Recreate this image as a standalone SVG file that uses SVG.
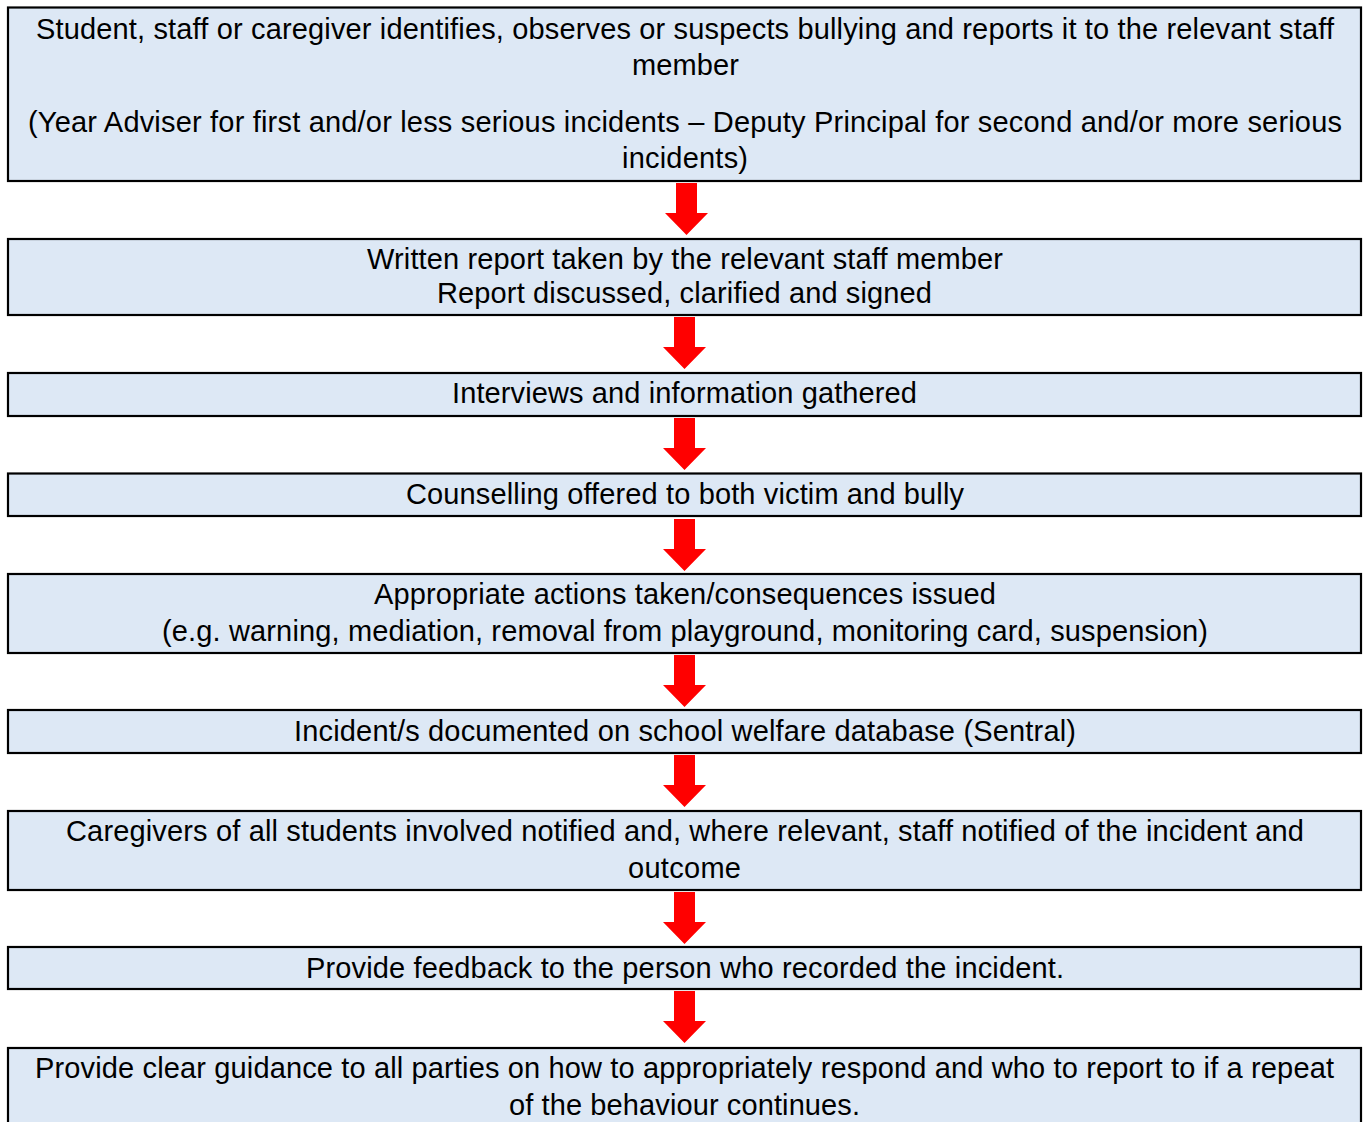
<svg xmlns="http://www.w3.org/2000/svg" xmlns:xlink="http://www.w3.org/1999/xlink" width="1366" height="1122" viewBox="0 0 1366 1122">
  <style>
    .box { fill: #dde8f5; stroke: #000000; stroke-width: 2.2; }
    .lbl { font-family: "Liberation Sans", Arial, sans-serif; font-size: 29px; fill: #000000; text-anchor: middle; }
    .arrow { fill: #ff0000; }
  </style>
  <defs>
    <!-- block down-arrow: shaft 21 wide, head 43 wide, 52 tall overall -->
    <path id="down" d="M -10.5 0 H 10.5 V 30 H 21.5 L 0 52 L -21.5 30 H -10.5 Z"/>
  </defs>
  <rect width="1366" height="1122" fill="#ffffff"/>

  <g id="connectors" class="arrow">
    <use xlink:href="#down" x="686.5" y="183"/>
    <use xlink:href="#down" x="684.5" y="317"/>
    <use xlink:href="#down" x="684.5" y="418"/>
    <use xlink:href="#down" x="684.5" y="519"/>
    <use xlink:href="#down" x="684.5" y="655"/>
    <use xlink:href="#down" x="684.5" y="755"/>
    <use xlink:href="#down" x="684.5" y="892"/>
    <use xlink:href="#down" x="684.5" y="991"/>
  </g>

  <g id="report">
    <rect class="box" x="8" y="7.5" width="1353" height="173.5"/>
    <text class="lbl" x="685" y="39" textLength="1298" lengthAdjust="spacing">Student, staff or caregiver identifies, observes or suspects bullying and reports it to the relevant staff</text>
    <text class="lbl" x="685.5" y="75" textLength="107" lengthAdjust="spacing">member</text>
    <text class="lbl" x="685" y="132" textLength="1314" lengthAdjust="spacing">(Year Adviser for first and/or less serious incidents – Deputy Principal for second and/or more serious</text>
    <text class="lbl" x="685" y="168" textLength="126" lengthAdjust="spacing">incidents)</text>
  </g>

  <g id="written-report">
    <rect class="box" x="8" y="239" width="1353" height="76"/>
    <text class="lbl" x="685" y="269" textLength="636" lengthAdjust="spacing">Written report taken by the relevant staff member</text>
    <text class="lbl" x="684.5" y="303" textLength="495" lengthAdjust="spacing">Report discussed, clarified and signed</text>
  </g>

  <g id="interviews">
    <rect class="box" x="8" y="373" width="1353" height="43"/>
    <text class="lbl" x="684.5" y="403" textLength="465" lengthAdjust="spacing">Interviews and information gathered</text>
  </g>

  <g id="counselling">
    <rect class="box" x="8" y="473.5" width="1353" height="42.5"/>
    <text class="lbl" x="685" y="504" textLength="558" lengthAdjust="spacing">Counselling offered to both victim and bully</text>
  </g>

  <g id="actions">
    <rect class="box" x="8" y="574" width="1353" height="79"/>
    <text class="lbl" x="685" y="604" textLength="622" lengthAdjust="spacing">Appropriate actions taken/consequences issued</text>
    <text class="lbl" x="685" y="641" textLength="1046" lengthAdjust="spacing">(e.g. warning, mediation, removal from playground, monitoring card, suspension)</text>
  </g>

  <g id="documented">
    <rect class="box" x="8" y="710" width="1353" height="43"/>
    <text class="lbl" x="685" y="741" textLength="782" lengthAdjust="spacing">Incident/s documented on school welfare database (Sentral)</text>
  </g>

  <g id="notified">
    <rect class="box" x="8" y="811" width="1353" height="79"/>
    <text class="lbl" x="685" y="841" textLength="1238" lengthAdjust="spacing">Caregivers of all students involved notified and, where relevant, staff notified of the incident and</text>
    <text class="lbl" x="684.5" y="878" textLength="113" lengthAdjust="spacing">outcome</text>
  </g>

  <g id="feedback">
    <rect class="box" x="8" y="947" width="1353" height="42"/>
    <text class="lbl" x="685" y="978" textLength="758" lengthAdjust="spacing">Provide feedback to the person who recorded the incident.</text>
  </g>

  <g id="guidance">
    <rect class="box" x="8" y="1048" width="1353" height="90"/>
    <text class="lbl" x="684.5" y="1078" textLength="1299" lengthAdjust="spacing">Provide clear guidance to all parties on how to appropriately respond and who to report to if a repeat</text>
    <text class="lbl" x="684.5" y="1115" textLength="351" lengthAdjust="spacing">of the behaviour continues.</text>
  </g>
</svg>
